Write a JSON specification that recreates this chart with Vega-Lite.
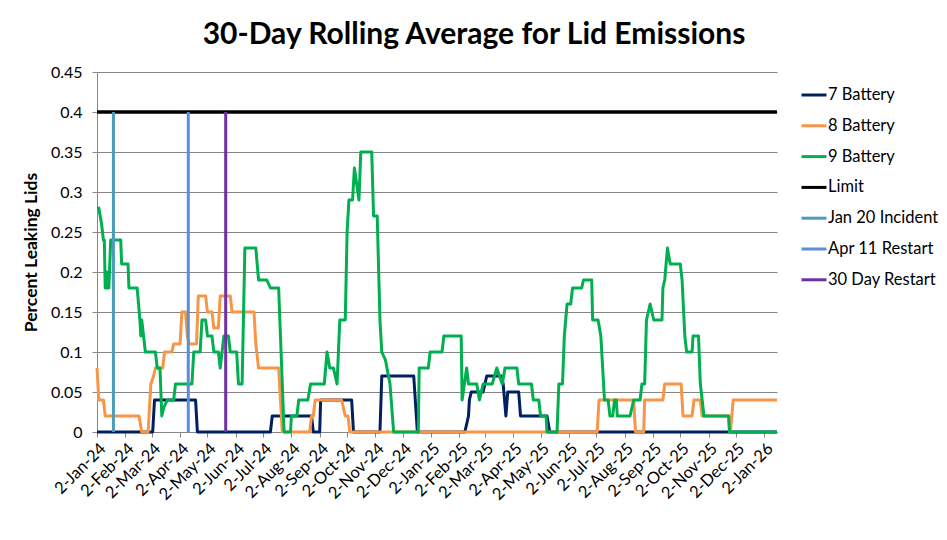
{
  "$schema": "https://vega.github.io/schema/vega-lite/v6.json",
  "width": 680,
  "height": 360,
  "autosize": {"type": "none"},
  "padding": {"left": 97, "top": 72, "right": 170, "bottom": 108},
  "background": "white",
  "config": {
    "view": {"stroke": null},
    "font": "Lato",
    "axis": {"labelFont": "Lato", "titleFont": "Lato", "labelColor": "#000000", "titleColor": "#000000"},
    "legend": {"labelFont": "Lato"}
  },
  "title": {
    "text": "30-Day Rolling Average for Lid Emissions",
    "fontSize": 30,
    "fontWeight": "bold",
    "font": "Lato",
    "color": "#000000",
    "anchor": "middle",
    "frame": "group",
    "dx": 37,
    "offset": 14
  },
  "datasets": {
    "series": [
      {"series": "7 Battery", "date": "2024-01-02", "value": 0},
      {"series": "7 Battery", "date": "2024-03-03", "value": 0},
      {"series": "7 Battery", "date": "2024-03-05", "value": 0.04},
      {"series": "7 Battery", "date": "2024-04-19", "value": 0.04},
      {"series": "7 Battery", "date": "2024-04-21", "value": 0},
      {"series": "7 Battery", "date": "2024-07-10", "value": 0},
      {"series": "7 Battery", "date": "2024-07-12", "value": 0.02},
      {"series": "7 Battery", "date": "2024-08-24", "value": 0.02},
      {"series": "7 Battery", "date": "2024-08-26", "value": 0},
      {"series": "7 Battery", "date": "2024-09-02", "value": 0},
      {"series": "7 Battery", "date": "2024-09-03", "value": 0.04},
      {"series": "7 Battery", "date": "2024-10-07", "value": 0.04},
      {"series": "7 Battery", "date": "2024-10-09", "value": 0},
      {"series": "7 Battery", "date": "2024-11-07", "value": 0},
      {"series": "7 Battery", "date": "2024-11-09", "value": 0.07},
      {"series": "7 Battery", "date": "2024-12-14", "value": 0.07},
      {"series": "7 Battery", "date": "2024-12-18", "value": 0},
      {"series": "7 Battery", "date": "2025-02-08", "value": 0},
      {"series": "7 Battery", "date": "2025-02-12", "value": 0.02},
      {"series": "7 Battery", "date": "2025-02-13", "value": 0.04},
      {"series": "7 Battery", "date": "2025-02-15", "value": 0.05},
      {"series": "7 Battery", "date": "2025-02-28", "value": 0.05},
      {"series": "7 Battery", "date": "2025-03-04", "value": 0.07},
      {"series": "7 Battery", "date": "2025-03-20", "value": 0.07},
      {"series": "7 Battery", "date": "2025-03-22", "value": 0.06},
      {"series": "7 Battery", "date": "2025-03-25", "value": 0.02},
      {"series": "7 Battery", "date": "2025-03-27", "value": 0.05},
      {"series": "7 Battery", "date": "2025-04-08", "value": 0.05},
      {"series": "7 Battery", "date": "2025-04-10", "value": 0.02},
      {"series": "7 Battery", "date": "2025-05-09", "value": 0.02},
      {"series": "7 Battery", "date": "2025-05-12", "value": 0},
      {"series": "7 Battery", "date": "2026-01-16", "value": 0},

      {"series": "8 Battery", "date": "2024-01-02", "value": 0.08},
      {"series": "8 Battery", "date": "2024-01-04", "value": 0.04},
      {"series": "8 Battery", "date": "2024-01-09", "value": 0.04},
      {"series": "8 Battery", "date": "2024-01-11", "value": 0.02},
      {"series": "8 Battery", "date": "2024-02-17", "value": 0.02},
      {"series": "8 Battery", "date": "2024-02-20", "value": 0},
      {"series": "8 Battery", "date": "2024-02-27", "value": 0},
      {"series": "8 Battery", "date": "2024-03-01", "value": 0.06},
      {"series": "8 Battery", "date": "2024-03-04", "value": 0.07},
      {"series": "8 Battery", "date": "2024-03-06", "value": 0.08},
      {"series": "8 Battery", "date": "2024-03-14", "value": 0.08},
      {"series": "8 Battery", "date": "2024-03-16", "value": 0.10},
      {"series": "8 Battery", "date": "2024-03-24", "value": 0.10},
      {"series": "8 Battery", "date": "2024-03-26", "value": 0.11},
      {"series": "8 Battery", "date": "2024-04-02", "value": 0.11},
      {"series": "8 Battery", "date": "2024-04-04", "value": 0.15},
      {"series": "8 Battery", "date": "2024-04-08", "value": 0.15},
      {"series": "8 Battery", "date": "2024-04-10", "value": 0.12},
      {"series": "8 Battery", "date": "2024-04-12", "value": 0.11},
      {"series": "8 Battery", "date": "2024-04-20", "value": 0.11},
      {"series": "8 Battery", "date": "2024-04-22", "value": 0.17},
      {"series": "8 Battery", "date": "2024-04-30", "value": 0.17},
      {"series": "8 Battery", "date": "2024-05-02", "value": 0.15},
      {"series": "8 Battery", "date": "2024-05-07", "value": 0.15},
      {"series": "8 Battery", "date": "2024-05-09", "value": 0.13},
      {"series": "8 Battery", "date": "2024-05-14", "value": 0.13},
      {"series": "8 Battery", "date": "2024-05-16", "value": 0.17},
      {"series": "8 Battery", "date": "2024-05-27", "value": 0.17},
      {"series": "8 Battery", "date": "2024-05-29", "value": 0.15},
      {"series": "8 Battery", "date": "2024-06-22", "value": 0.15},
      {"series": "8 Battery", "date": "2024-06-24", "value": 0.11},
      {"series": "8 Battery", "date": "2024-06-27", "value": 0.08},
      {"series": "8 Battery", "date": "2024-07-19", "value": 0.08},
      {"series": "8 Battery", "date": "2024-07-23", "value": 0},
      {"series": "8 Battery", "date": "2024-08-22", "value": 0},
      {"series": "8 Battery", "date": "2024-08-24", "value": 0.02},
      {"series": "8 Battery", "date": "2024-08-26", "value": 0.02},
      {"series": "8 Battery", "date": "2024-08-28", "value": 0.04},
      {"series": "8 Battery", "date": "2024-09-26", "value": 0.04},
      {"series": "8 Battery", "date": "2024-09-30", "value": 0.02},
      {"series": "8 Battery", "date": "2024-10-03", "value": 0.02},
      {"series": "8 Battery", "date": "2024-10-05", "value": 0},
      {"series": "8 Battery", "date": "2025-07-03", "value": 0},
      {"series": "8 Battery", "date": "2025-07-05", "value": 0.04},
      {"series": "8 Battery", "date": "2025-08-12", "value": 0.04},
      {"series": "8 Battery", "date": "2025-08-14", "value": 0},
      {"series": "8 Battery", "date": "2025-08-23", "value": 0},
      {"series": "8 Battery", "date": "2025-08-24", "value": 0.04},
      {"series": "8 Battery", "date": "2025-09-13", "value": 0.04},
      {"series": "8 Battery", "date": "2025-09-15", "value": 0.06},
      {"series": "8 Battery", "date": "2025-10-03", "value": 0.06},
      {"series": "8 Battery", "date": "2025-10-05", "value": 0.02},
      {"series": "8 Battery", "date": "2025-10-15", "value": 0.02},
      {"series": "8 Battery", "date": "2025-10-17", "value": 0.04},
      {"series": "8 Battery", "date": "2025-10-24", "value": 0.04},
      {"series": "8 Battery", "date": "2025-10-26", "value": 0.02},
      {"series": "8 Battery", "date": "2025-11-24", "value": 0.02},
      {"series": "8 Battery", "date": "2025-11-25", "value": 0},
      {"series": "8 Battery", "date": "2025-11-26", "value": 0},
      {"series": "8 Battery", "date": "2025-11-29", "value": 0.04},
      {"series": "8 Battery", "date": "2026-01-16", "value": 0.04},

      {"series": "9 Battery", "date": "2024-01-02", "value": 0.28},
      {"series": "9 Battery", "date": "2024-01-04", "value": 0.28},
      {"series": "9 Battery", "date": "2024-01-07", "value": 0.26},
      {"series": "9 Battery", "date": "2024-01-09", "value": 0.24},
      {"series": "9 Battery", "date": "2024-01-10", "value": 0.24},
      {"series": "9 Battery", "date": "2024-01-11", "value": 0.18},
      {"series": "9 Battery", "date": "2024-01-12", "value": 0.18},
      {"series": "9 Battery", "date": "2024-01-13", "value": 0.20},
      {"series": "9 Battery", "date": "2024-01-14", "value": 0.18},
      {"series": "9 Battery", "date": "2024-01-15", "value": 0.18},
      {"series": "9 Battery", "date": "2024-01-17", "value": 0.24},
      {"series": "9 Battery", "date": "2024-01-28", "value": 0.24},
      {"series": "9 Battery", "date": "2024-01-29", "value": 0.21},
      {"series": "9 Battery", "date": "2024-02-05", "value": 0.21},
      {"series": "9 Battery", "date": "2024-02-06", "value": 0.18},
      {"series": "9 Battery", "date": "2024-02-15", "value": 0.18},
      {"series": "9 Battery", "date": "2024-02-18", "value": 0.14},
      {"series": "9 Battery", "date": "2024-02-19", "value": 0.12},
      {"series": "9 Battery", "date": "2024-02-20", "value": 0.14},
      {"series": "9 Battery", "date": "2024-02-22", "value": 0.12},
      {"series": "9 Battery", "date": "2024-02-24", "value": 0.10},
      {"series": "9 Battery", "date": "2024-03-06", "value": 0.10},
      {"series": "9 Battery", "date": "2024-03-08", "value": 0.08},
      {"series": "9 Battery", "date": "2024-03-11", "value": 0.08},
      {"series": "9 Battery", "date": "2024-03-13", "value": 0.02},
      {"series": "9 Battery", "date": "2024-03-15", "value": 0.03},
      {"series": "9 Battery", "date": "2024-03-19", "value": 0.04},
      {"series": "9 Battery", "date": "2024-03-26", "value": 0.04},
      {"series": "9 Battery", "date": "2024-03-28", "value": 0.06},
      {"series": "9 Battery", "date": "2024-04-15", "value": 0.06},
      {"series": "9 Battery", "date": "2024-04-17", "value": 0.10},
      {"series": "9 Battery", "date": "2024-04-24", "value": 0.10},
      {"series": "9 Battery", "date": "2024-04-26", "value": 0.14},
      {"series": "9 Battery", "date": "2024-04-30", "value": 0.14},
      {"series": "9 Battery", "date": "2024-05-02", "value": 0.12},
      {"series": "9 Battery", "date": "2024-05-07", "value": 0.12},
      {"series": "9 Battery", "date": "2024-05-09", "value": 0.10},
      {"series": "9 Battery", "date": "2024-05-14", "value": 0.10},
      {"series": "9 Battery", "date": "2024-05-16", "value": 0.08},
      {"series": "9 Battery", "date": "2024-05-18", "value": 0.10},
      {"series": "9 Battery", "date": "2024-05-20", "value": 0.12},
      {"series": "9 Battery", "date": "2024-05-25", "value": 0.12},
      {"series": "9 Battery", "date": "2024-05-27", "value": 0.10},
      {"series": "9 Battery", "date": "2024-06-03", "value": 0.10},
      {"series": "9 Battery", "date": "2024-06-05", "value": 0.06},
      {"series": "9 Battery", "date": "2024-06-09", "value": 0.06},
      {"series": "9 Battery", "date": "2024-06-12", "value": 0.23},
      {"series": "9 Battery", "date": "2024-06-24", "value": 0.23},
      {"series": "9 Battery", "date": "2024-06-27", "value": 0.19},
      {"series": "9 Battery", "date": "2024-07-06", "value": 0.19},
      {"series": "9 Battery", "date": "2024-07-10", "value": 0.18},
      {"series": "9 Battery", "date": "2024-07-19", "value": 0.18},
      {"series": "9 Battery", "date": "2024-07-25", "value": 0},
      {"series": "9 Battery", "date": "2024-08-01", "value": 0},
      {"series": "9 Battery", "date": "2024-08-02", "value": 0.02},
      {"series": "9 Battery", "date": "2024-08-08", "value": 0.02},
      {"series": "9 Battery", "date": "2024-08-10", "value": 0.04},
      {"series": "9 Battery", "date": "2024-08-20", "value": 0.04},
      {"series": "9 Battery", "date": "2024-08-23", "value": 0.06},
      {"series": "9 Battery", "date": "2024-09-07", "value": 0.06},
      {"series": "9 Battery", "date": "2024-09-10", "value": 0.10},
      {"series": "9 Battery", "date": "2024-09-13", "value": 0.08},
      {"series": "9 Battery", "date": "2024-09-17", "value": 0.08},
      {"series": "9 Battery", "date": "2024-09-21", "value": 0.06},
      {"series": "9 Battery", "date": "2024-09-24", "value": 0.14},
      {"series": "9 Battery", "date": "2024-09-30", "value": 0.14},
      {"series": "9 Battery", "date": "2024-10-02", "value": 0.25},
      {"series": "9 Battery", "date": "2024-10-04", "value": 0.29},
      {"series": "9 Battery", "date": "2024-10-08", "value": 0.29},
      {"series": "9 Battery", "date": "2024-10-10", "value": 0.33},
      {"series": "9 Battery", "date": "2024-10-15", "value": 0.29},
      {"series": "9 Battery", "date": "2024-10-17", "value": 0.35},
      {"series": "9 Battery", "date": "2024-10-29", "value": 0.35},
      {"series": "9 Battery", "date": "2024-10-31", "value": 0.27},
      {"series": "9 Battery", "date": "2024-11-04", "value": 0.27},
      {"series": "9 Battery", "date": "2024-11-07", "value": 0.14},
      {"series": "9 Battery", "date": "2024-11-09", "value": 0.10},
      {"series": "9 Battery", "date": "2024-11-13", "value": 0.09},
      {"series": "9 Battery", "date": "2024-11-18", "value": 0.06},
      {"series": "9 Battery", "date": "2024-11-22", "value": 0},
      {"series": "9 Battery", "date": "2024-12-19", "value": 0},
      {"series": "9 Battery", "date": "2024-12-20", "value": 0.08},
      {"series": "9 Battery", "date": "2024-12-30", "value": 0.08},
      {"series": "9 Battery", "date": "2025-01-01", "value": 0.10},
      {"series": "9 Battery", "date": "2025-01-14", "value": 0.10},
      {"series": "9 Battery", "date": "2025-01-16", "value": 0.12},
      {"series": "9 Battery", "date": "2025-02-04", "value": 0.12},
      {"series": "9 Battery", "date": "2025-02-05", "value": 0.04},
      {"series": "9 Battery", "date": "2025-02-10", "value": 0.08},
      {"series": "9 Battery", "date": "2025-02-12", "value": 0.06},
      {"series": "9 Battery", "date": "2025-02-21", "value": 0.06},
      {"series": "9 Battery", "date": "2025-02-24", "value": 0.04},
      {"series": "9 Battery", "date": "2025-02-28", "value": 0.06},
      {"series": "9 Battery", "date": "2025-03-10", "value": 0.06},
      {"series": "9 Battery", "date": "2025-03-15", "value": 0.08},
      {"series": "9 Battery", "date": "2025-03-21", "value": 0.06},
      {"series": "9 Battery", "date": "2025-03-24", "value": 0.08},
      {"series": "9 Battery", "date": "2025-04-06", "value": 0.08},
      {"series": "9 Battery", "date": "2025-04-08", "value": 0.06},
      {"series": "9 Battery", "date": "2025-04-22", "value": 0.06},
      {"series": "9 Battery", "date": "2025-04-24", "value": 0.04},
      {"series": "9 Battery", "date": "2025-04-30", "value": 0.04},
      {"series": "9 Battery", "date": "2025-05-02", "value": 0.02},
      {"series": "9 Battery", "date": "2025-05-08", "value": 0.02},
      {"series": "9 Battery", "date": "2025-05-09", "value": 0},
      {"series": "9 Battery", "date": "2025-05-20", "value": 0},
      {"series": "9 Battery", "date": "2025-05-22", "value": 0.06},
      {"series": "9 Battery", "date": "2025-05-26", "value": 0.06},
      {"series": "9 Battery", "date": "2025-05-28", "value": 0.12},
      {"series": "9 Battery", "date": "2025-05-31", "value": 0.16},
      {"series": "9 Battery", "date": "2025-06-04", "value": 0.16},
      {"series": "9 Battery", "date": "2025-06-06", "value": 0.18},
      {"series": "9 Battery", "date": "2025-06-16", "value": 0.18},
      {"series": "9 Battery", "date": "2025-06-18", "value": 0.19},
      {"series": "9 Battery", "date": "2025-06-27", "value": 0.19},
      {"series": "9 Battery", "date": "2025-06-28", "value": 0.14},
      {"series": "9 Battery", "date": "2025-07-04", "value": 0.14},
      {"series": "9 Battery", "date": "2025-07-07", "value": 0.12},
      {"series": "9 Battery", "date": "2025-07-11", "value": 0.04},
      {"series": "9 Battery", "date": "2025-07-15", "value": 0.04},
      {"series": "9 Battery", "date": "2025-07-17", "value": 0.02},
      {"series": "9 Battery", "date": "2025-07-20", "value": 0.02},
      {"series": "9 Battery", "date": "2025-07-22", "value": 0.04},
      {"series": "9 Battery", "date": "2025-07-24", "value": 0.04},
      {"series": "9 Battery", "date": "2025-07-25", "value": 0.02},
      {"series": "9 Battery", "date": "2025-08-08", "value": 0.02},
      {"series": "9 Battery", "date": "2025-08-12", "value": 0.04},
      {"series": "9 Battery", "date": "2025-08-19", "value": 0.04},
      {"series": "9 Battery", "date": "2025-08-21", "value": 0.06},
      {"series": "9 Battery", "date": "2025-08-24", "value": 0.06},
      {"series": "9 Battery", "date": "2025-08-26", "value": 0.14},
      {"series": "9 Battery", "date": "2025-08-30", "value": 0.16},
      {"series": "9 Battery", "date": "2025-09-03", "value": 0.14},
      {"series": "9 Battery", "date": "2025-09-12", "value": 0.14},
      {"series": "9 Battery", "date": "2025-09-13", "value": 0.18},
      {"series": "9 Battery", "date": "2025-09-15", "value": 0.19},
      {"series": "9 Battery", "date": "2025-09-18", "value": 0.23},
      {"series": "9 Battery", "date": "2025-09-21", "value": 0.21},
      {"series": "9 Battery", "date": "2025-10-02", "value": 0.21},
      {"series": "9 Battery", "date": "2025-10-04", "value": 0.19},
      {"series": "9 Battery", "date": "2025-10-07", "value": 0.12},
      {"series": "9 Battery", "date": "2025-10-09", "value": 0.10},
      {"series": "9 Battery", "date": "2025-10-15", "value": 0.10},
      {"series": "9 Battery", "date": "2025-10-16", "value": 0.12},
      {"series": "9 Battery", "date": "2025-10-22", "value": 0.12},
      {"series": "9 Battery", "date": "2025-10-24", "value": 0.06},
      {"series": "9 Battery", "date": "2025-10-28", "value": 0.02},
      {"series": "9 Battery", "date": "2025-11-24", "value": 0.02},
      {"series": "9 Battery", "date": "2025-11-25", "value": 0},
      {"series": "9 Battery", "date": "2026-01-16", "value": 0}
    ],
    "limit": [
      {"series": "Limit", "date": "2024-01-02", "value": 0.4},
      {"series": "Limit", "date": "2026-01-16", "value": 0.4}
    ],
    "events": [
      {"series": "Jan 20 Incident", "date": "2024-01-20", "value": 0},
      {"series": "Jan 20 Incident", "date": "2024-01-20", "value": 0.4},
      {"series": "Apr 11 Restart", "date": "2024-04-11", "value": 0},
      {"series": "Apr 11 Restart", "date": "2024-04-11", "value": 0.4},
      {"series": "30 Day Restart", "date": "2024-05-22", "value": 0},
      {"series": "30 Day Restart", "date": "2024-05-22", "value": 0.4}
    ]
  },
  "encoding": {
    "x": {
      "field": "date",
      "type": "temporal",
      "scale": {"type": "utc", "domain": [1704153600000, 1768521600000]},
      "axis": {
        "title": null,
        "format": "%-d-%b-%y",
        "values": [
          {"year": 2024, "month": 1, "date": 2, "utc": true},
          {"year": 2024, "month": 2, "date": 2, "utc": true},
          {"year": 2024, "month": 3, "date": 2, "utc": true},
          {"year": 2024, "month": 4, "date": 2, "utc": true},
          {"year": 2024, "month": 5, "date": 2, "utc": true},
          {"year": 2024, "month": 6, "date": 2, "utc": true},
          {"year": 2024, "month": 7, "date": 2, "utc": true},
          {"year": 2024, "month": 8, "date": 2, "utc": true},
          {"year": 2024, "month": 9, "date": 2, "utc": true},
          {"year": 2024, "month": 10, "date": 2, "utc": true},
          {"year": 2024, "month": 11, "date": 2, "utc": true},
          {"year": 2024, "month": 12, "date": 2, "utc": true},
          {"year": 2025, "month": 1, "date": 2, "utc": true},
          {"year": 2025, "month": 2, "date": 2, "utc": true},
          {"year": 2025, "month": 3, "date": 2, "utc": true},
          {"year": 2025, "month": 4, "date": 2, "utc": true},
          {"year": 2025, "month": 5, "date": 2, "utc": true},
          {"year": 2025, "month": 6, "date": 2, "utc": true},
          {"year": 2025, "month": 7, "date": 2, "utc": true},
          {"year": 2025, "month": 8, "date": 2, "utc": true},
          {"year": 2025, "month": 9, "date": 2, "utc": true},
          {"year": 2025, "month": 10, "date": 2, "utc": true},
          {"year": 2025, "month": 11, "date": 2, "utc": true},
          {"year": 2025, "month": 12, "date": 2, "utc": true},
          {"year": 2026, "month": 1, "date": 2, "utc": true}
        ],
        "labelAngle": -45,
        "labelFontSize": 16.5,
        "labelPadding": 3,
        "grid": false,
        "domainColor": "#868686",
        "tickColor": "#868686",
        "tickSize": 5,
        "labelOverlap": false
      }
    },
    "y": {
      "field": "value",
      "type": "quantitative",
      "scale": {"domain": [0, 0.45], "nice": false},
      "axis": {
        "title": "Percent Leaking Lids",
        "titleFontSize": 17.5,
        "titleFontWeight": "bold",
        "titlePadding": 10,
        "values": [0, 0.05, 0.1, 0.15, 0.2, 0.25, 0.3, 0.35, 0.4, 0.45],
        "format": ".2~f",
        "labelFontSize": 16,
        "labelPadding": 10,
        "grid": true,
        "gridColor": "#868686",
        "gridWidth": 1.2,
        "domainColor": "#868686",
        "tickColor": "#868686",
        "tickSize": 5
      }
    },
    "color": {
      "field": "series",
      "type": "nominal",
      "scale": {
        "domain": ["7 Battery", "8 Battery", "9 Battery", "Limit", "Jan 20 Incident", "Apr 11 Restart", "30 Day Restart"],
        "range": ["#002060", "#F79646", "#00B050", "#000000", "#4A9DB8", "#5A8FD6", "#7030A0"]
      },
      "legend": {
        "title": null,
        "orient": "none",
        "legendX": 703,
        "legendY": 9,
        "symbolType": "stroke",
        "symbolStrokeWidth": 3,
        "symbolSize": 625,
        "labelFontSize": 16.5,
        "labelColor": "#000000",
        "labelOffset": 0,
        "rowPadding": 7.8,
        "padding": 0
      }
    }
  },
  "layer": [
    {"data": {"name": "series"}, "mark": {"type": "line", "strokeWidth": 3, "strokeJoin": "round"}},
    {"data": {"name": "limit"}, "mark": {"type": "line", "strokeWidth": 3.5}},
    {"data": {"name": "events"}, "mark": {"type": "line", "strokeWidth": 3}}
  ]
}
